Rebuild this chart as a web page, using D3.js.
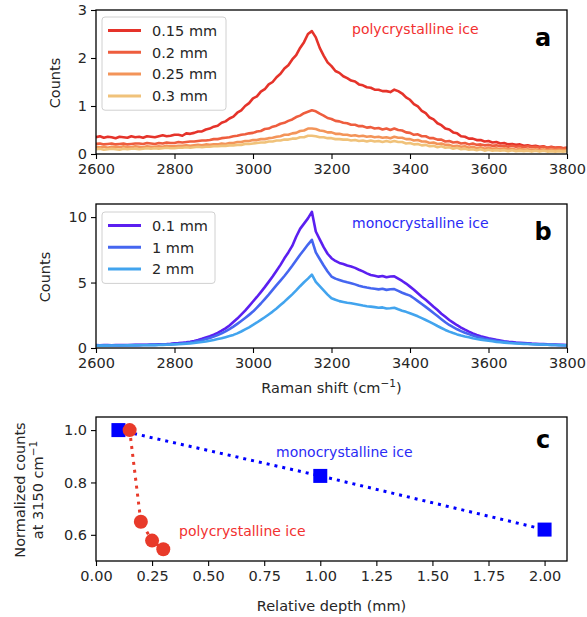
<!DOCTYPE html>
<html><head><meta charset="utf-8">
<script src="https://cdn.jsdelivr.net/npm/d3@7"></script>
<style>body{margin:0;background:#fff}svg{display:block}text{font-family:"DejaVu Sans",sans-serif}</style>
</head><body>
<svg id="chart" width="587" height="617"></svg>
<script>
const shift = [2600,2610,2620,2630,2640,2650,2660,2670,2680,2690,2700,2710,2720,2730,2740,2750,2760,2770,2780,2790,2800,2810,2820,2830,2840,2850,2860,2870,2880,2890,2900,2910,2920,2930,2940,2950,2960,2970,2980,2990,3000,3010,3020,3030,3040,3050,3060,3070,3080,3090,3100,3110,3120,3130,3140,3150,3160,3170,3180,3190,3200,3210,3220,3230,3240,3250,3260,3270,3280,3290,3300,3310,3320,3330,3340,3350,3360,3370,3380,3390,3400,3410,3420,3430,3440,3450,3460,3470,3480,3490,3500,3510,3520,3530,3540,3550,3560,3570,3580,3590,3600,3610,3620,3630,3640,3650,3660,3670,3680,3690,3700,3710,3720,3730,3740,3750,3760,3770,3780,3790,3800];

const polyLabels = ["0.15 mm","0.2 mm","0.25 mm","0.3 mm"];
const poly015 = [0.35,0.37,0.34,0.36,0.35,0.33,0.36,0.35,0.34,0.37,0.35,0.36,0.34,0.37,0.36,0.35,0.37,0.39,0.37,0.38,0.40,0.40,0.38,0.43,0.42,0.44,0.47,0.47,0.51,0.53,0.57,0.59,0.65,0.68,0.74,0.78,0.86,0.91,1.00,1.06,1.16,1.20,1.30,1.35,1.45,1.50,1.60,1.67,1.78,1.85,1.97,2.06,2.21,2.33,2.50,2.56,2.43,2.21,2.05,1.91,1.83,1.73,1.69,1.62,1.58,1.53,1.51,1.45,1.43,1.39,1.38,1.34,1.34,1.31,1.31,1.29,1.34,1.31,1.26,1.18,1.13,1.04,0.99,0.90,0.85,0.76,0.72,0.64,0.60,0.53,0.51,0.45,0.43,0.37,0.36,0.32,0.32,0.29,0.29,0.26,0.27,0.24,0.25,0.22,0.23,0.20,0.21,0.19,0.20,0.17,0.18,0.16,0.17,0.15,0.16,0.13,0.15,0.13,0.14,0.12,0.13];
const poly020 = [0.21,0.22,0.20,0.21,0.22,0.20,0.21,0.22,0.20,0.21,0.22,0.22,0.21,0.23,0.22,0.21,0.23,0.22,0.24,0.23,0.23,0.25,0.24,0.25,0.26,0.26,0.27,0.28,0.28,0.29,0.31,0.31,0.33,0.34,0.35,0.37,0.38,0.40,0.41,0.43,0.44,0.47,0.48,0.52,0.53,0.57,0.59,0.63,0.65,0.69,0.72,0.77,0.80,0.85,0.88,0.91,0.89,0.84,0.80,0.75,0.73,0.69,0.68,0.65,0.64,0.61,0.61,0.58,0.58,0.55,0.56,0.53,0.54,0.51,0.53,0.50,0.53,0.50,0.49,0.45,0.44,0.40,0.41,0.37,0.37,0.33,0.33,0.30,0.30,0.26,0.27,0.24,0.25,0.22,0.23,0.20,0.22,0.19,0.20,0.18,0.19,0.17,0.18,0.16,0.17,0.15,0.17,0.15,0.16,0.14,0.16,0.14,0.15,0.13,0.15,0.13,0.14,0.13,0.14,0.12,0.13];
const poly025 = [0.15,0.14,0.15,0.13,0.15,0.15,0.14,0.16,0.14,0.14,0.16,0.15,0.14,0.16,0.15,0.15,0.16,0.15,0.17,0.16,0.16,0.17,0.17,0.18,0.17,0.18,0.19,0.18,0.20,0.19,0.20,0.20,0.22,0.21,0.23,0.23,0.25,0.25,0.27,0.27,0.29,0.29,0.31,0.31,0.33,0.34,0.36,0.37,0.40,0.40,0.43,0.44,0.48,0.49,0.53,0.53,0.52,0.49,0.48,0.45,0.45,0.42,0.42,0.40,0.40,0.38,0.39,0.37,0.38,0.36,0.37,0.35,0.36,0.34,0.35,0.33,0.36,0.34,0.34,0.31,0.31,0.28,0.29,0.26,0.26,0.23,0.24,0.21,0.22,0.19,0.19,0.16,0.17,0.15,0.16,0.13,0.15,0.12,0.14,0.11,0.13,0.11,0.12,0.10,0.12,0.10,0.11,0.09,0.11,0.09,0.10,0.09,0.10,0.08,0.10,0.08,0.09,0.08,0.09,0.08,0.08];
const poly030 = [0.10,0.11,0.09,0.10,0.11,0.10,0.09,0.11,0.10,0.11,0.11,0.10,0.11,0.12,0.11,0.12,0.11,0.12,0.13,0.12,0.12,0.13,0.13,0.14,0.13,0.14,0.15,0.14,0.15,0.15,0.16,0.16,0.17,0.17,0.18,0.18,0.19,0.19,0.21,0.21,0.22,0.23,0.24,0.24,0.26,0.26,0.28,0.28,0.30,0.30,0.32,0.32,0.35,0.35,0.38,0.38,0.37,0.35,0.35,0.33,0.33,0.31,0.31,0.30,0.30,0.28,0.29,0.27,0.28,0.26,0.28,0.26,0.27,0.25,0.27,0.25,0.27,0.25,0.25,0.22,0.23,0.20,0.21,0.18,0.19,0.16,0.17,0.14,0.16,0.13,0.14,0.11,0.13,0.10,0.11,0.09,0.10,0.08,0.10,0.07,0.09,0.07,0.08,0.07,0.08,0.06,0.08,0.06,0.07,0.06,0.07,0.05,0.07,0.05,0.07,0.05,0.06,0.05,0.06,0.05,0.06];

const monoLabels = ["0.1 mm","1 mm","2 mm"];
const mono01 = [0.22,0.21,0.22,0.22,0.21,0.22,0.22,0.23,0.22,0.23,0.24,0.24,0.25,0.25,0.26,0.27,0.28,0.29,0.30,0.32,0.35,0.37,0.40,0.43,0.48,0.54,0.61,0.70,0.80,0.90,1.02,1.16,1.32,1.50,1.72,1.98,2.25,2.55,2.86,3.20,3.55,3.90,4.27,4.65,5.05,5.46,5.90,6.35,6.85,7.30,7.80,8.50,9.10,9.50,9.90,10.40,8.90,8.30,7.70,7.20,6.86,6.65,6.50,6.42,6.30,6.22,6.12,5.98,5.85,5.70,5.58,5.52,5.45,5.50,5.40,5.46,5.48,5.30,5.12,4.92,4.69,4.45,4.18,3.92,3.68,3.42,3.15,2.90,2.62,2.38,2.14,1.94,1.74,1.56,1.40,1.25,1.12,1.00,0.90,0.82,0.74,0.68,0.62,0.57,0.52,0.48,0.45,0.42,0.40,0.38,0.36,0.34,0.33,0.31,0.30,0.28,0.27,0.26,0.25,0.24,0.23];
const mono1 = [0.20,0.20,0.21,0.20,0.21,0.21,0.20,0.21,0.21,0.22,0.22,0.22,0.23,0.23,0.24,0.24,0.25,0.26,0.27,0.29,0.31,0.33,0.35,0.38,0.42,0.47,0.53,0.60,0.68,0.77,0.87,0.99,1.12,1.27,1.44,1.63,1.84,2.06,2.29,2.53,2.78,3.08,3.40,3.74,4.08,4.44,4.80,5.15,5.50,5.88,6.28,6.70,7.12,7.50,7.90,8.26,7.30,6.80,6.30,5.85,5.46,5.30,5.20,5.10,5.02,4.95,4.86,4.76,4.68,4.62,4.57,4.53,4.48,4.52,4.44,4.49,4.50,4.36,4.22,4.10,4.00,3.80,3.58,3.36,3.14,2.91,2.68,2.44,2.20,1.97,1.76,1.59,1.43,1.29,1.17,1.06,0.95,0.86,0.78,0.71,0.65,0.60,0.55,0.51,0.47,0.43,0.40,0.38,0.36,0.34,0.32,0.30,0.29,0.28,0.27,0.25,0.24,0.23,0.22,0.21,0.20];
const mono2 = [0.18,0.18,0.19,0.18,0.19,0.19,0.19,0.19,0.20,0.20,0.20,0.21,0.21,0.21,0.22,0.22,0.23,0.24,0.25,0.26,0.28,0.29,0.31,0.33,0.35,0.38,0.42,0.46,0.50,0.55,0.61,0.68,0.75,0.83,0.91,1.00,1.12,1.26,1.42,1.58,1.76,1.95,2.15,2.35,2.56,2.78,3.02,3.28,3.54,3.82,4.10,4.40,4.72,5.02,5.30,5.60,5.05,4.72,4.40,4.08,3.80,3.68,3.58,3.52,3.46,3.42,3.36,3.30,3.24,3.19,3.16,3.12,3.07,3.10,3.02,3.04,3.08,2.96,2.85,2.76,2.65,2.54,2.42,2.28,2.14,2.00,1.84,1.68,1.53,1.38,1.25,1.14,1.04,0.95,0.88,0.82,0.75,0.69,0.64,0.59,0.55,0.51,0.47,0.44,0.41,0.38,0.36,0.34,0.33,0.31,0.30,0.29,0.28,0.27,0.26,0.25,0.24,0.23,0.22,0.21,0.20];

const depthMono = [0.1, 1.0, 2.0];
const normMono = [1.0, 0.825, 0.62];
const depthPoly = [0.15, 0.2, 0.25, 0.3];
const normPoly = [1.0, 0.65, 0.578, 0.545];

const ticksA = [0,1,2,3];
const ticksB = [0,5,10];
const ticksC_y = [0.6,0.8,1.0];
const ticksC_x = [0,0.25,0.5,0.75,1.0,1.25,1.5,1.75,2.0];
const ticksShift = [2600,2800,3000,3200,3400,3600,3800];

const polyColors = ["#e5332a","#ee5d3e","#f39459","#f0c27a"];
const monoColors = ["#5b1ff0","#4566f0","#42a4ee"];

const svg = d3.select("#chart");
const L = 96, R = 567;
const FS = "14.5px";

function frame(g, top, bottom){
  g.append("rect").attr("x",L).attr("y",top).attr("width",R-L).attr("height",bottom-top)
   .attr("fill","none").attr("stroke","#000").attr("stroke-width",1.3);
}
function styleAxis(ax){
  ax.select(".domain").remove();
  ax.selectAll(".tick line").attr("stroke","#000").attr("stroke-width",1.1);
  ax.selectAll(".tick text").attr("font-family","DejaVu Sans").attr("font-size",FS).attr("fill","#262626");
}
function spectrumPanel(top, bottom, ymax, yticks, series, colors, labels, note, noteColor, letter, legendTop, legendW){
  const x = d3.scaleLinear().domain([2600,3800]).range([L,R]);
  const y = d3.scaleLinear().domain([0,ymax]).range([bottom,top]);
  const g = svg.append("g");
  const cid = "clip"+letter;
  svg.append("clipPath").attr("id",cid).append("rect").attr("x",L).attr("y",top).attr("width",R-L).attr("height",bottom-top);
  const line = d3.line().x((d,i)=>x(shift[i])).y(d=>y(d));
  const lg = g.append("g").attr("clip-path","url(#"+cid+")");
  series.forEach((s,k)=>{
    lg.append("path").attr("d",line(s)).attr("fill","none").attr("stroke",colors[k])
      .attr("stroke-width",2.6).attr("stroke-linejoin","round");
  });
  const ax = g.append("g").attr("transform",`translate(0,${bottom})`)
    .call(d3.axisBottom(x).tickValues(ticksShift).tickSize(5).tickPadding(5).tickFormat(d3.format("d")));
  styleAxis(ax);
  const ay = g.append("g").attr("transform",`translate(${L},0)`)
    .call(d3.axisLeft(y).tickValues(yticks).tickSize(5).tickPadding(4).tickFormat(d3.format("d")));
  styleAxis(ay);
  frame(g, top, bottom);
  g.append("text").attr("x",352).attr("y",top+24).attr("font-size","14px").attr("fill",noteColor).text(note);
  g.append("text").attr("x",543).attr("y",top+36).attr("text-anchor","middle").attr("font-size","24px")
    .attr("font-weight","bold").attr("fill","#000").text(letter);
  const rowH = 21.8;
  const lgH = labels.length*rowH + 6;
  g.append("rect").attr("x",102).attr("y",legendTop).attr("width",legendW).attr("height",lgH)
    .attr("rx",3).attr("fill","#fff").attr("fill-opacity",0.8).attr("stroke","#d0d0d0").attr("stroke-width",1);
  labels.forEach((lab,k)=>{
    const cy = legendTop + 13.5 + k*rowH;
    g.append("line").attr("x1",108).attr("x2",141).attr("y1",cy).attr("y2",cy)
      .attr("stroke",colors[k]).attr("stroke-width",3);
    g.append("text").attr("x",152).attr("y",cy+5.2).attr("font-size",FS).attr("fill","#262626").text(lab);
  });
  return {x,y};
}

spectrumPanel(10,154,3,ticksA,[poly015,poly020,poly025,poly030],polyColors,polyLabels,
  "polycrystalline ice","#f23030","a",17,124);
spectrumPanel(204,348,11,ticksB,[mono01,mono1,mono2],monoColors,monoLabels,
  "monocrystalline ice","#2a2af5","b",212,113);

function ylab(xc, yc, content){
  const t = svg.append("text").attr("transform",`translate(${xc},${yc}) rotate(-90)`)
    .attr("text-anchor","middle").attr("font-size",FS).attr("fill","#262626");
  content(t);
  return t;
}
ylab(60,83,t=>t.text("Counts"));
ylab(50,277,t=>t.text("Counts"));
const xl = svg.append("text").attr("x",331.5).attr("y",393).attr("text-anchor","middle")
  .attr("font-size",FS).attr("fill","#262626");
xl.append("tspan").text("Raman shift (cm");
xl.append("tspan").attr("dy",-6).attr("font-size","10.5px").text("\u22121");
xl.append("tspan").attr("dy",6).text(")");

const cTop = 417, cBot = 561;
const xc = d3.scaleLinear().domain([0,2.1]).range([L,R]);
const yc = d3.scaleLinear().domain([0.5,1.05]).range([cBot,cTop]);
const gc = svg.append("g");
const lineC = d3.line().x(d=>xc(d[0])).y(d=>yc(d[1]));
const monoPts = depthMono.map((d,i)=>[d,normMono[i]]);
const polyPts = depthPoly.map((d,i)=>[d,normPoly[i]]);
gc.append("path").attr("d",lineC(monoPts)).attr("fill","none").attr("stroke","#0000ff")
  .attr("stroke-width",3).attr("stroke-dasharray","3,5");
gc.selectAll(".sq").data(monoPts).enter().append("rect")
  .attr("x",d=>xc(d[0])-7).attr("y",d=>yc(d[1])-7).attr("width",14).attr("height",14).attr("fill","#0000ff");
gc.append("path").attr("d",lineC(polyPts)).attr("fill","none").attr("stroke","#e83a2a")
  .attr("stroke-width",3).attr("stroke-dasharray","3,5");
gc.selectAll(".ci").data(polyPts).enter().append("circle")
  .attr("cx",d=>xc(d[0])).attr("cy",d=>yc(d[1])).attr("r",7).attr("fill","#e83a2a");
const axc = gc.append("g").attr("transform",`translate(0,${cBot})`)
  .call(d3.axisBottom(xc).tickValues(ticksC_x).tickSize(5).tickPadding(5).tickFormat(d3.format(".2f")));
styleAxis(axc);
const ayc = gc.append("g").attr("transform",`translate(${L},0)`)
  .call(d3.axisLeft(yc).tickValues(ticksC_y).tickSize(5).tickPadding(4).tickFormat(d3.format(".1f")));
styleAxis(ayc);
frame(gc, cTop, cBot);
gc.append("text").attr("x",276).attr("y",457).attr("font-size","14px").attr("fill","#2a2af5").text("monocrystalline ice");
gc.append("text").attr("x",179).attr("y",536).attr("font-size","14px").attr("fill","#f23030").text("polycrystalline ice");
gc.append("text").attr("x",543).attr("y",448).attr("text-anchor","middle").attr("font-size","24px")
  .attr("font-weight","bold").attr("fill","#000").text("c");
ylab(25,490,t=>t.text("Normalized counts"));
ylab(43,490,t=>{
  t.append("tspan").text("at 3150 cm");
  t.append("tspan").attr("dy",-6).attr("font-size","10.5px").text("\u22121");
});
svg.append("text").attr("x",331.5).attr("y",611).attr("text-anchor","middle")
  .attr("font-size",FS).attr("fill","#262626").text("Relative depth (mm)");
</script>
</body></html>
